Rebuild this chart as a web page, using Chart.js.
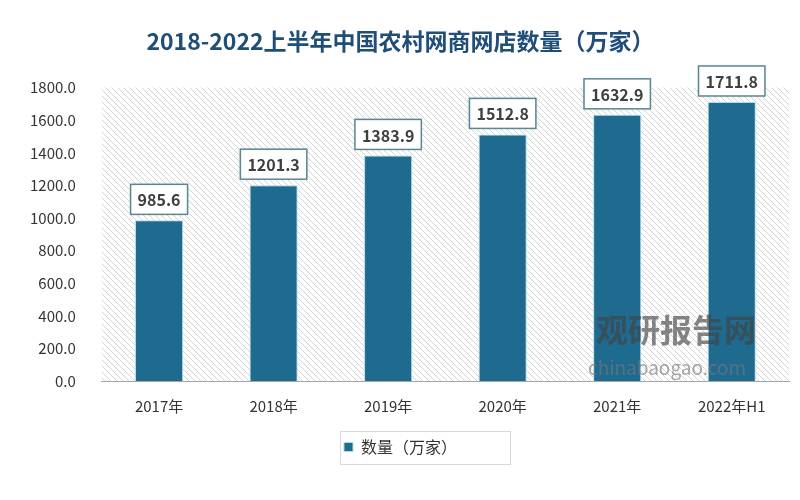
<!DOCTYPE html>
<html><head><meta charset="utf-8">
<script src="https://cdn.jsdelivr.net/npm/chart.js@4/dist/chart.umd.min.js"></script>
<style>html,body{margin:0;padding:0;background:#fff}#wrap{width:800px;height:500px}</style>
</head><body><div id="wrap"><canvas id="c" width="800" height="500"></canvas></div>
<script>
const categories = ["2017年","2018年","2019年","2020年","2021年","2022年H1"];
const values = [985.6, 1201.3, 1383.9, 1512.8, 1632.9, 1711.8];
const seriesName = "数量（万家）";
const titleText = "2018-2022上半年中国农村网商网店数量（万家）";
const yTicks = [0,200,400,600,800,1000,1200,1400,1600,1800];

const FONT = "'Noto Sans CJK SC', 'Noto Sans', sans-serif";
const BAR = "#1f6a8f";

function hatch(ctx){
  const p = document.createElement('canvas');
  p.width = 6; p.height = 6;
  const g = p.getContext('2d');
  g.fillStyle = '#ffffff'; g.fillRect(0,0,6,6);
  g.strokeStyle = '#d4d4d4'; g.lineWidth = 1;
  g.beginPath();
  g.moveTo(0,0); g.lineTo(6,6);
  g.moveTo(-3,3); g.lineTo(3,9);
  g.moveTo(3,-3); g.lineTo(9,3);
  g.stroke();
  return ctx.createPattern(p,'repeat');
}

const bgPlugin = {
  id:'bg',
  beforeDraw(chart){
    const {ctx, chartArea:a} = chart;
    ctx.save();
    ctx.fillStyle = hatch(ctx);
    ctx.fillRect(a.left, a.top, a.right-a.left, a.bottom-a.top);
    ctx.restore();
  }
};

const labelPlugin = {
  id:'lbl',
  afterDatasetsDraw(chart){
    const {ctx} = chart;
    const meta = chart.getDatasetMeta(0);
    ctx.save();
    ctx.font = "bold 16px " + FONT;
    meta.data.forEach((bar,i)=>{
      const t = values[i].toFixed(1);
      const w = ctx.measureText(t).width + 14;
      const h = 30;
      const x = bar.x - w/2;
      const y = bar.y - 6 - h;
      ctx.fillStyle = '#ffffff';
      ctx.shadowColor = 'rgba(120,190,210,0.5)';
      ctx.shadowBlur = 3;
      ctx.fillRect(x,y,w,h);
      ctx.shadowBlur = 0;
      ctx.strokeStyle = '#5f8593';
      ctx.lineWidth = 1.5;
      ctx.strokeRect(x,y,w,h);
      ctx.fillStyle = '#404040';
      ctx.textAlign = 'center';
      ctx.textBaseline = 'middle';
      ctx.fillText(t, bar.x, y + h/2 + 1);
    });
    ctx.restore();
  },
  afterDraw(chart){
    const {ctx} = chart;
    const lg = chart.legend;
    ctx.save();
    ctx.strokeStyle = '#d9d9d9';
    ctx.lineWidth = 1;
    const cy = lg.legendHitBoxes && lg.legendHitBoxes.length ? lg.legendHitBoxes[0].top + lg.legendHitBoxes[0].height/2 : 446;
    ctx.strokeRect(340.5, Math.round(cy - 16) + 0.5, 170, 33);
    // watermark
    ctx.globalAlpha = 0.65;
    ctx.fillStyle = '#444';
    ctx.font = "bold 32px " + FONT;
    ctx.textAlign = 'left';
    ctx.textBaseline = 'middle';
    ctx.fillText("观研报告网", 596, 330);
    ctx.font = "19px " + FONT;
    ctx.fillStyle = '#777';
    ctx.fillText("chinabaogao.com", 588, 368);
    ctx.restore();
  }
};

new Chart(document.getElementById('c'), {
  type:'bar',
  data:{
    labels: categories,
    datasets:[{
      label: seriesName,
      data: values,
      backgroundColor: BAR,
      borderColor: '#a9dcec',
      borderWidth: 1,
      barPercentage: 0.42,
      categoryPercentage: 1.0
    }]
  },
  options:{
    responsive:false,
    animation:false,
    layout:{padding:{left:12,right:11,top:10,bottom:35}},
    plugins:{
      title:{display:true, text:titleText, color:'#1f4e79',
        font:{family:FONT, size:23, weight:'bold'}, padding:{top:17,bottom:33}},
      legend:{display:true, position:'bottom',
        labels:{usePointStyle:true, pointStyle:'rect', boxWidth:9, boxHeight:9,
          color:'#333', font:{family:FONT, size:16}, padding:16}},
      tooltip:{enabled:false}
    },
    scales:{
      x:{
        grid:{display:false},
        border:{display:true, color:'#a6a6a6', width:1},
        ticks:{color:'#333', font:{family:FONT, size:15}, padding:8}
      },
      y:{
        min:0, max:1800,
        afterBuildTicks(axis){ axis.ticks = yTicks.map(v=>({value:v})); },
        grid:{display:false},
        border:{display:false},
        ticks:{color:'#333', font:{family:FONT, size:15}, padding:18,
          callback:(v)=>Number(v).toFixed(1)}
      }
    }
  },
  plugins:[bgPlugin, labelPlugin]
});
</script>
</body></html>
